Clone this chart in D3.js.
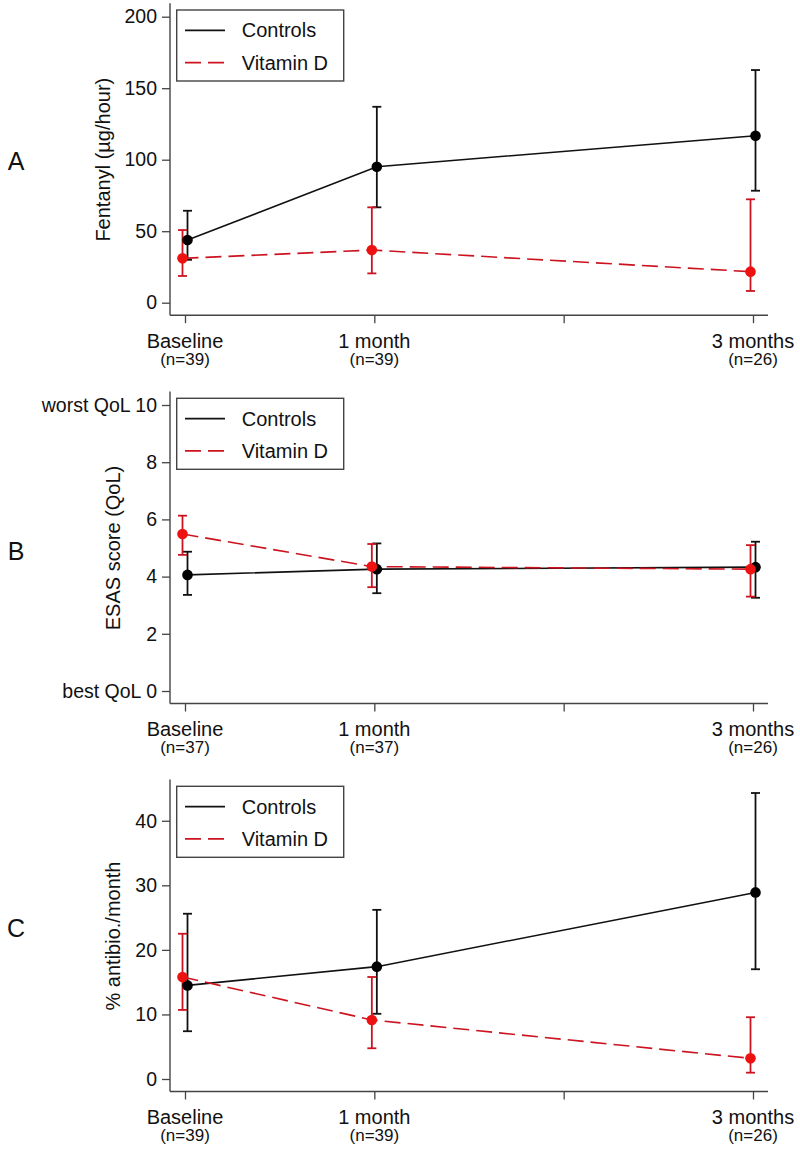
<!DOCTYPE html>
<html>
<head>
<meta charset="utf-8">
<script src="https://cdn.jsdelivr.net/npm/d3@7"></script>
<style>
  body { margin: 0; background: #fff; }
  svg { display: block; font-family: "Liberation Sans", Arial, sans-serif; }
</style>
</head>
<body>
<div id="chart"></div>
<script>
// time points in months
const timepoints = [0, 1, 3];
const xTicks = [0, 1, 2, 3];
const xTickLabels = ["Baseline", "1 month", "", "3 months"];

const seriesNames = ["Controls", "Vitamin D"];

// panel A: fentanyl (µg/hour)
const fentanylN = ["(n=39)", "(n=39)", "", "(n=26)"];
const fentanylControls = [43.8, 95.1, 116.8];
const fentanylControlsLo = [30.0, 66.7, 78.3];
const fentanylControlsHi = [64.3, 137.0, 162.7];
const fentanylVitD = [31.0, 36.8, 21.7];
const fentanylVitDLo = [18.7, 20.5, 8.2];
const fentanylVitDHi = [50.8, 66.7, 72.3];
const fentanylTicks = [0, 50, 100, 150, 200];

// panel B: ESAS score
const esasN = ["(n=37)", "(n=37)", "", "(n=26)"];
const esasControls = [4.06, 4.26, 4.33];
const esasControlsLo = [3.36, 3.42, 3.26];
const esasControlsHi = [4.87, 5.16, 5.22];
const esasVitD = [5.49, 4.35, 4.26];
const esasVitDLo = [4.76, 3.63, 3.30];
const esasVitDHi = [6.13, 5.14, 5.10];
const esasTicks = [0, 2, 4, 6, 8, 10];
const esasTickLabels = ["best QoL 0", "2", "4", "6", "8", "worst QoL 10"];

// panel C: % antibiotics per month
const antibioN = ["(n=39)", "(n=39)", "", "(n=26)"];
const antibioControls = [14.5, 17.4, 28.9];
const antibioControlsLo = [7.4, 10.1, 17.0];
const antibioControlsHi = [25.6, 26.2, 44.3];
const antibioVitD = [15.8, 9.15, 3.2];
const antibioVitDLo = [10.7, 4.76, 0.98];
const antibioVitDHi = [22.5, 15.8, 9.57];
const antibioTicks = [0, 10, 20, 30, 40];

const width = 800, height = 1150;
const axisX = 170;
const plotH = 286;
const red = "#cc1420", redDot = "#ee1111";

const svg = d3.select("#chart").append("svg")
  .attr("width", width)
  .attr("height", height);

const x = d3.scaleLinear().domain([0, 3]).range([185, 753]);

const panels = [
  { letter: "A", top: 16.7, letterY: 170, title: "Fentanyl (\u00b5g/hour)", titleX: 110,
    domain: [0, 200], ticks: fentanylTicks, tickLabels: fentanylTicks.map(String), n: fentanylN,
    ctrl: [fentanylControls, fentanylControlsLo, fentanylControlsHi],
    vitd: [fentanylVitD, fentanylVitDLo, fentanylVitDHi] },
  { letter: "B", top: 405, letterY: 560, title: "ESAS score (QoL)", titleX: 120,
    domain: [0, 10], ticks: esasTicks, tickLabels: esasTickLabels, n: esasN,
    ctrl: [esasControls, esasControlsLo, esasControlsHi],
    vitd: [esasVitD, esasVitDLo, esasVitDHi] },
  { letter: "C", top: 793, letterY: 937, title: "% antibio./month", titleX: 120,
    domain: [0, 44.3], ticks: antibioTicks, tickLabels: antibioTicks.map(String), n: antibioN,
    ctrl: [antibioControls, antibioControlsLo, antibioControlsHi],
    vitd: [antibioVitD, antibioVitDLo, antibioVitDHi] }
];

panels.forEach(p => {
  const bottom = p.top + plotH;
  const y = d3.scaleLinear().domain(p.domain).range([bottom, p.top]);
  const g = svg.append("g");

  // panel letter
  g.append("text")
    .attr("x", 16).attr("y", p.letterY)
    .attr("text-anchor", "middle")
    .attr("font-size", 25)
    .attr("fill", "#111")
    .text(p.letter);

  // y axis
  const yAxis = g.append("g")
    .attr("transform", `translate(${axisX},0)`)
    .call(d3.axisLeft(y)
      .tickValues(p.ticks)
      .tickFormat((d, i) => p.tickLabels[i])
      .tickSize(8)
      .tickPadding(5));
  yAxis.select(".domain").remove();
  yAxis.selectAll("text").attr("font-size", 19.5).attr("fill", "#111")
    .attr("font-family", "'Liberation Sans', Arial, sans-serif");
  yAxis.selectAll("line").attr("stroke", "#444").attr("stroke-width", 1.3);
  g.append("line")
    .attr("x1", axisX).attr("x2", axisX)
    .attr("y1", p.top - 13.5).attr("y2", bottom + 12.5)
    .attr("stroke", "#444").attr("stroke-width", 1.4);

  // y title
  g.append("text")
    .attr("transform", `translate(${p.titleX},${(p.top + bottom) / 2}) rotate(-90)`)
    .attr("text-anchor", "middle")
    .attr("font-size", 20)
    .attr("fill", "#111")
    .text(p.title);

  // x axis
  const xAxis = g.append("g")
    .attr("transform", `translate(0,${bottom + 12.5})`)
    .call(d3.axisBottom(x).tickValues(xTicks).tickFormat("").tickSize(8));
  xAxis.select(".domain").remove();
  xAxis.selectAll("line").attr("stroke", "#444").attr("stroke-width", 1.3);
  g.append("line")
    .attr("x1", axisX).attr("x2", 768)
    .attr("y1", bottom + 12.5).attr("y2", bottom + 12.5)
    .attr("stroke", "#444").attr("stroke-width", 1.4);

  xTicks.forEach((t, i) => {
    g.append("text")
      .attr("x", x(t)).attr("y", bottom + 45)
      .attr("text-anchor", "middle")
      .attr("font-size", 20).attr("fill", "#111")
      .text(xTickLabels[i]);
    g.append("text")
      .attr("x", x(t)).attr("y", bottom + 62)
      .attr("text-anchor", "middle")
      .attr("font-size", 17).attr("fill", "#111")
      .text(p.n[i]);
  });

  const series = [
    { vals: p.ctrl, off: 2.5, color: "#111", dot: "#000", dash: null },
    { vals: p.vitd, off: -2.5, color: red, dot: redDot, dash: "16,7" }
  ];

  // error bars
  series.forEach(s => {
    const [m, lo, hi] = s.vals;
    timepoints.forEach((t, i) => {
      const cx = x(t) + s.off;
      const eg = g.append("g").attr("stroke", s.color).attr("stroke-width", 1.8);
      eg.append("line").attr("x1", cx).attr("x2", cx).attr("y1", y(lo[i])).attr("y2", y(hi[i]));
      eg.append("line").attr("x1", cx - 4.5).attr("x2", cx + 4.5).attr("y1", y(lo[i])).attr("y2", y(lo[i]));
      eg.append("line").attr("x1", cx - 4.5).attr("x2", cx + 4.5).attr("y1", y(hi[i])).attr("y2", y(hi[i]));
    });
  });

  // lines
  const line = d3.line();
  series.forEach(s => {
    const pts = timepoints.map((t, i) => [x(t) + s.off, y(s.vals[0][i])]);
    g.append("path")
      .attr("d", line(pts))
      .attr("fill", "none")
      .attr("stroke", s.color)
      .attr("stroke-width", 1.6)
      .attr("stroke-dasharray", s.dash);
  });

  // points
  series.forEach(s => {
    g.selectAll(null)
      .data(timepoints)
      .enter().append("circle")
      .attr("cx", (t) => x(t) + s.off)
      .attr("cy", (t, i) => y(s.vals[0][i]))
      .attr("r", 5.3)
      .attr("fill", s.dot);
  });

  // legend
  const lg = g.append("g").attr("transform", `translate(176.7,${p.top - 6.7})`);
  lg.append("rect")
    .attr("width", 167).attr("height", 71)
    .attr("fill", "#fff").attr("stroke", "#444").attr("stroke-width", 1.4);
  series.forEach((s, i) => {
    const ly = 20.3 + i * 32.3;
    lg.append("line")
      .attr("x1", 8.3).attr("x2", 48.3)
      .attr("y1", ly).attr("y2", ly)
      .attr("stroke", s.color).attr("stroke-width", 1.8)
      .attr("stroke-dasharray", s.dash);
    lg.append("text")
      .attr("x", 65).attr("y", ly + 7)
      .attr("font-size", 20).attr("fill", "#111")
      .text(seriesNames[i]);
  });
});
</script>
</body>
</html>
